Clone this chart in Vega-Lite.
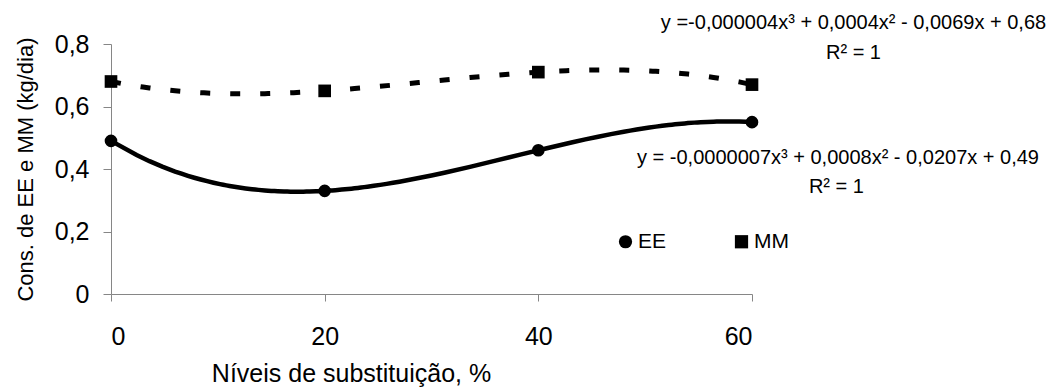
{
  "$schema": "https://vega.github.io/schema/vega-lite/v6.json",
  "autosize": {"type": "none"},
  "width": 641,
  "height": 250,
  "padding": {"left": 111, "top": 44, "right": 303, "bottom": 96},
  "background": "white",
  "config": {
    "font": "Liberation Sans",
    "view": {"stroke": null},
    "axis": {"grid": false, "domainColor": "#868686", "tickColor": "#868686", "labelColor": "black", "titleColor": "black", "titleFontWeight": "normal", "labelFont": "Liberation Sans", "titleFont": "Liberation Sans"},
    "legend": {"labelFont": "Liberation Sans"}
  },
  "datasets": {
    "pts": [
      {"s": "EE", "x": 0, "y": 0.49},
      {"s": "EE", "x": 20, "y": 0.33},
      {"s": "EE", "x": 40, "y": 0.46},
      {"s": "EE", "x": 60, "y": 0.55},
      {"s": "MM", "x": 0, "y": 0.68},
      {"s": "MM", "x": 20, "y": 0.65},
      {"s": "MM", "x": 40, "y": 0.71},
      {"s": "MM", "x": 60, "y": 0.67}
    ],
    "ann": [
      {"t": "y =-0,000004x³ + 0,0004x² - 0,0069x + 0,68", "x": 69.5, "y": 0.867},
      {"t": "R² = 1", "x": 69.5, "y": 0.772},
      {"t": "y = -0,0000007x³ + 0,0008x² - 0,0207x + 0,49", "x": 68.05, "y": 0.436},
      {"t": "R² = 1", "x": 67.9, "y": 0.343}
    ]
  },
  "encoding": {
    "x": {"field": "x", "type": "quantitative", "scale": {"domain": [0, 60], "nice": false, "zero": false},
      "axis": {"values": [0, 20, 40, 60], "title": "Níveis de substituição, %", "labelFontSize": 25, "titleFontSize": 25, "tickSize": 7, "labelPadding": 23, "titlePadding": 12, "titleX": 240, "titleAlign": "center"}},
    "y": {"field": "y", "type": "quantitative", "scale": {"domain": [0, 0.8], "nice": false},
      "axis": {"values": [0, 0.2, 0.4, 0.6, 0.8], "title": "Cons. de EE e MM (kg/dia)", "labelExpr": "datum.value == 0 ? '0' : replace(format(datum.value, '.1f'), '.', ',')", "labelFontSize": 25, "titleFontSize": 22, "tickSize": 8, "labelPadding": 14, "titlePadding": 17}}
  },
  "layer": [
    {
      "data": {"name": "pts"},
      "transform": [{"filter": "datum.s == 'EE'"}, {"regression": "y", "on": "x", "method": "poly", "order": 3}],
      "mark": {"type": "line", "color": "black", "strokeWidth": 4.5}
    },
    {
      "data": {"name": "pts"},
      "transform": [{"filter": "datum.s == 'MM'"}, {"regression": "y", "on": "x", "method": "poly", "order": 3}],
      "mark": {"type": "line", "color": "black", "strokeWidth": 5, "strokeDash": [10, 20]}
    },
    {
      "data": {"name": "pts"},
      "mark": {"type": "point", "filled": true, "color": "black", "opacity": 1, "size": 160},
      "encoding": {
        "shape": {"field": "s", "type": "nominal", "scale": {"domain": ["EE", "MM"], "range": ["circle", "square"]},
          "legend": {"title": null, "orient": "none", "legendX": 504, "legendY": 187, "direction": "horizontal", "labelFontSize": 21, "symbolSize": 175, "symbolFillColor": "black", "symbolStrokeWidth": 0, "columnPadding": 64, "labelOffset": 2}}
      }
    },
    {
      "data": {"name": "ann"},
      "mark": {"type": "text", "fontSize": 20, "color": "black", "align": "center", "baseline": "middle"},
      "encoding": {"text": {"field": "t"}}
    }
  ]
}
